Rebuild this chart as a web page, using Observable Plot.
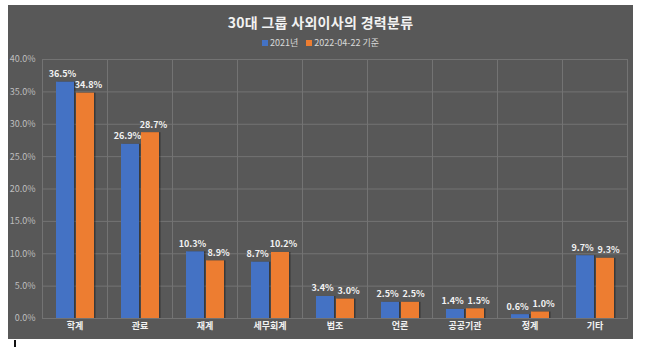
<!DOCTYPE html>
<html>
<head>
<meta charset="utf-8">
<script src="https://cdn.jsdelivr.net/npm/d3@7"></script>
<script src="https://cdn.jsdelivr.net/npm/@observablehq/plot@0.6"></script>
<style>
  html, body { margin: 0; padding: 0; background: #ffffff; width: 647px; height: 347px; overflow: hidden; }
  body { font-family: "Noto Sans CJK KR", "Noto Sans", sans-serif; position: relative; }
  #box { position: absolute; left: 8px; top: 5px; width: 625px; height: 334px; background: #585858; overflow: hidden; }
  #title { position: absolute; left: 0; width: 100%; top: 7px; text-align: center; color: #f2f2f2; font-size: 14px; font-weight: bold; letter-spacing: 0.3px; }
  #legend { position: absolute; left: 0; width: 100%; top: 31px; text-align: center; color: #d9d9d9; font-size: 9px; }
  #legend span.sw { display: inline-block; width: 6px; height: 6px; margin-right: 2px; vertical-align: 0px; }
  #legend span.item { margin: 0 4px; }
  #chart { position: absolute; left: 0; top: 45px; }
  #cursor { position: absolute; left: 14px; top: 340px; width: 2px; height: 7px; background: #111; }
</style>
</head>
<body>
<div id="box">
  <div id="title">30대 그룹 사외이사의 경력분류</div>
  <div id="legend"></div>
  <div id="chart"></div>
</div>
<div id="cursor"></div>
<script>
const categories = ["학계", "관료", "재계", "세무회계", "법조", "언론", "공공기관", "정계", "기타"];
const seriesNames = ["2021년", "2022-04-22 기준"];
const values2021 = [36.5, 26.9, 10.3, 8.7, 3.4, 2.5, 1.4, 0.6, 9.7];
const values2022 = [34.8, 28.7, 8.9, 10.2, 3.0, 2.5, 1.5, 1.0, 9.3];
const yTicks = [0, 5, 10, 15, 20, 25, 30, 35, 40];
const colors = ["#4472C4", "#ED7D31"];

const data = [];
categories.forEach((c, i) => {
  data.push({category: c, series: seriesNames[0], value: values2021[i]});
  data.push({category: c, series: seriesNames[1], value: values2022[i]});
});
const data2021 = data.filter(d => d.series === seriesNames[0]);
const data2022 = data.filter(d => d.series === seriesNames[1]);

// legend
const legend = document.getElementById("legend");
seriesNames.forEach((s, i) => {
  const item = document.createElement("span");
  item.className = "item";
  const sw = document.createElement("span");
  sw.className = "sw";
  sw.style.background = colors[i];
  item.appendChild(sw);
  item.appendChild(document.createTextNode(s));
  legend.appendChild(item);
});

const gridColor = "#737373";
const fmt = d => d.toFixed(1) + "%";
const labelOpts = {fx: "category", x: "series", y: "value", text: d => fmt(d.value), dy: -8, fill: "#f2f2f2", fontWeight: "bold", fontSize: 9};

const chart = Plot.plot({
  width: 625,
  height: 288,
  marginTop: 9,
  marginBottom: 20,
  marginLeft: 34,
  marginRight: 6,
  style: {background: "transparent", color: "#bfbfbf", fontFamily: "'Noto Sans CJK KR', sans-serif", fontSize: "9px"},
  fx: {domain: categories, padding: 0, label: null, axis: "bottom", tickSize: 0, tickPadding: 4},
  x: {domain: seriesNames, paddingInner: 0.1, paddingOuter: 0.675, axis: null},
  y: {domain: [0, 40], ticks: yTicks, tickFormat: fmt, tickSize: 0, tickPadding: 7, label: null, grid: false},
  color: {domain: seriesNames, range: colors},
  facet: {data: data, x: "category"},
  marks: [
    Plot.gridY(yTicks, {stroke: gridColor, strokeOpacity: 1}),
    Plot.frame({stroke: gridColor}),
    Plot.barY(data, {fx: "category", x: "series", y: "value", fill: "rgba(0,0,0,0.35)", dx: 1.5}),
    Plot.barY(data, {fx: "category", x: "series", y: "value", fill: "series"}),
    Plot.text(data2021, {...labelOpts, dx: -3}),
    Plot.text(data2022, {...labelOpts, dx: 3})
  ]
});
chart.querySelectorAll("text").forEach(t => {
  if (categories.includes(t.textContent.trim())) {
    t.setAttribute("fill", "#f2f2f2");
    t.style.fill = "#f2f2f2";
    t.setAttribute("font-weight", "bold");
    t.style.fontWeight = "bold";
  }
});
document.getElementById("chart").appendChild(chart);
</script>
</body>
</html>
